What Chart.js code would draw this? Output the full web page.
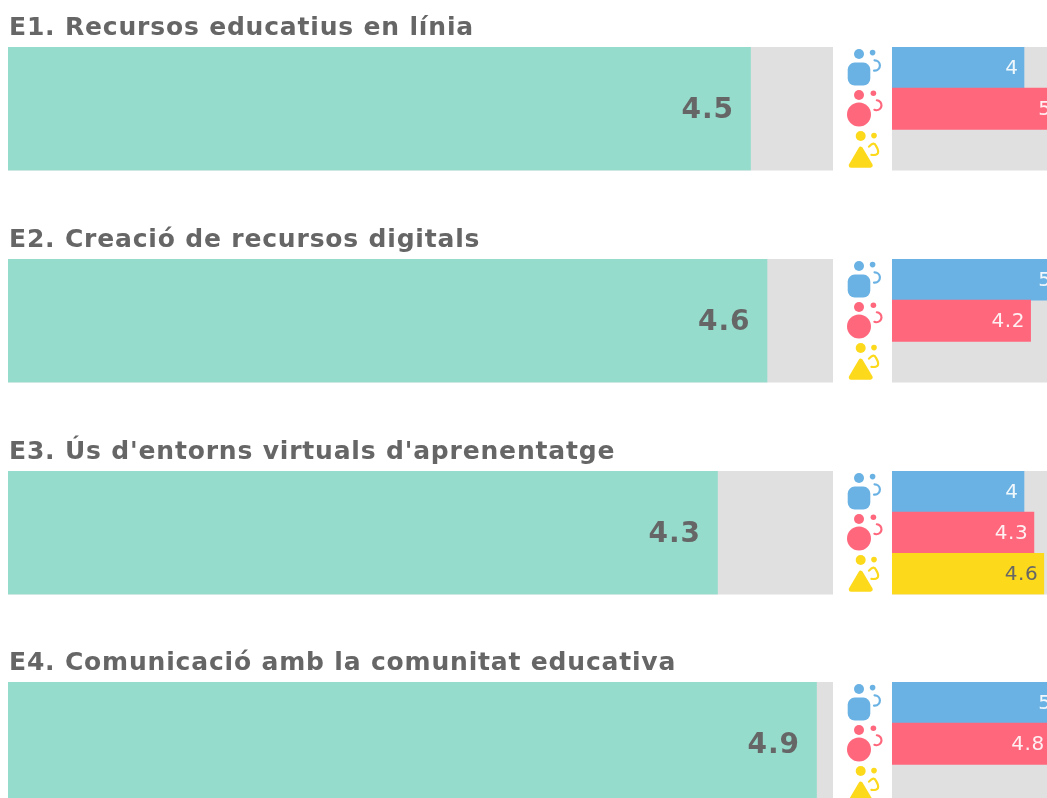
<!DOCTYPE html>
<html><head><meta charset="utf-8">
<style>
html,body{margin:0;padding:0;width:1047px;height:798px;overflow:hidden;background:#fff}
canvas{position:absolute;display:block}
</style>
<script src="https://cdn.jsdelivr.net/npm/chart.js@4/dist/chart.umd.min.js"></script>
</head><body>
<script>
const titles = ["E1. Recursos educatius en línia","E2. Creació de recursos digitals","E3. Ús d'entorns virtuals d'aprenentatge","E4. Comunicació amb la comunitat educativa"];
const overall = [4.5,4.6,4.3,4.9];
const groups = ["Homes","Dones","Altres"];
const blueValues = [4,5,4,5];
const redValues = [5,4.2,4.3,4.8];
const yellowValues = [null,null,4.6,null];
const axisMax = [5,5];
const sectionTops = [0,212,424,635];

const GREY="#e0e0e0",TEAL="#96dccd",BLUE="#6ab2e3",RED="#ff677d",YELLOW="#fdd91c",TEXT="#666666";
const FONT='"DejaVu Sans"';

const trackPlugin={id:'track',beforeDatasetsDraw(c){const a=c.chartArea,x=c.ctx;x.save();x.fillStyle=GREY;x.fillRect(a.left,a.top,a.right-a.left,a.bottom-a.top);x.restore();}};
const labelPlugin={id:'valueLabels',afterDatasetsDraw(c,_,o){
  const x=c.ctx,ds=c.data.datasets[0],m=c.getDatasetMeta(0);
  x.save();x.textAlign='right';x.textBaseline='middle';x.font=o.font;x.letterSpacing=o.spacing;
  ds.data.forEach((v,i)=>{ if(v==null)return;
    x.fillStyle=o.colors[i];
    x.fillText(String(v),m.data[i].x-o.gap,m.data[i].y+o.dy);
  });x.restore();}};
const titlePlugin={id:'sectionTitle',afterDraw(c,_,o){const x=c.ctx;x.save();x.font='bold 25px '+FONT;x.letterSpacing='0.82px';x.fillStyle=TEXT;x.textAlign='left';x.textBaseline='alphabetic';x.fillText(o.text,c.chartArea.left+1,c.chartArea.top-12);x.restore();}};
const iconPlugin={id:'icons',afterDraw(c){
  const x=c.ctx,s=c.scales.y;
  const dot=(a,b,r)=>{x.beginPath();x.arc(a,b,r,0,Math.PI*2);x.fill();};
  const cols=[BLUE,RED,YELLOW];
  cols.forEach((col,i)=>{
    const cy=s.getPixelForValue(i); const lx=c.chartArea.left-33;
    x.save();x.fillStyle=col;x.strokeStyle=col;x.lineWidth=2.2;x.lineCap='round';x.lineJoin='round';
    if(i===0){dot(lx,cy-13.6,5);x.beginPath();x.roundRect(lx-11.3,cy-5,22.6,23,7);x.fill();
      dot(lx+13.6,cy-15,2.8);x.beginPath();x.arc(lx+15.7,cy-2.1,5.2,-1.6,1.7);x.stroke();}
    if(i===1){dot(lx,cy-13.8,5);dot(lx,cy+5.8,12);
      dot(lx+14.4,cy-15.5,2.8);x.beginPath();x.arc(lx+17.5,cy-3.5,5,-1.5,2);x.stroke();}
    if(i===2){dot(lx+1.7,cy-14,5);
      x.beginPath();x.moveTo(lx+1.7,cy-1);x.lineTo(lx+11.5,cy+15.5);x.lineTo(lx-8,cy+15.5);x.closePath();x.lineWidth=4.5;x.fill();x.stroke();
      dot(lx+15,cy-14.3,2.8);x.lineWidth=2.2;x.beginPath();x.moveTo(lx+10,cy-3.3);x.quadraticCurveTo(lx+15,cy-9,lx+17,cy-4);x.quadraticCurveTo(lx+23,cy+6,lx+12.4,cy+5);x.stroke();}
    x.restore();
  });}};

function makeCanvas(left,top,w,h){const e=document.createElement('canvas');e.style.left=left+'px';e.style.top=top+'px';e.style.width=w+'px';e.style.height=h+'px';document.body.appendChild(e);return e;}

sectionTops.forEach((top,k)=>{
  new Chart(makeCanvas(0,top,840,171),{
    type:'bar',
    data:{labels:[titles[k]],datasets:[{data:[overall[k]],backgroundColor:TEAL,barPercentage:1,categoryPercentage:1}]},
    plugins:[trackPlugin,labelPlugin,titlePlugin],
    options:{indexAxis:'y',responsive:false,animation:false,
      layout:{padding:{left:8,right:7,top:47,bottom:0.5}},
      scales:{x:{display:false,min:0,max:axisMax[0]},y:{display:false}},
      plugins:{legend:{display:false},tooltip:{enabled:false},
        sectionTitle:{text:titles[k]},
        valueLabels:{font:'bold 28px '+FONT,spacing:'1px',colors:[TEXT],gap:16.5,dy:2}}}
  });
  new Chart(makeCanvas(840,top,217,171),{
    type:'bar',
    data:{labels:groups,datasets:[{data:[blueValues[k],redValues[k],yellowValues[k]],backgroundColor:[BLUE,RED,YELLOW],barPercentage:1,categoryPercentage:1}]},
    plugins:[trackPlugin,labelPlugin,iconPlugin],
    options:{indexAxis:'y',responsive:false,animation:false,
      layout:{padding:{left:52,right:0,top:47,bottom:0.5}},
      scales:{x:{display:false,min:0,max:axisMax[1]},y:{display:false}},
      plugins:{legend:{display:false},tooltip:{enabled:false},
        valueLabels:{font:'20px '+FONT,spacing:'0.6px',colors:['rgba(255,255,255,0.9)','rgba(255,255,255,0.9)',TEXT],gap:5.5,dy:1}}}
  });
});
</script>
</body></html>
